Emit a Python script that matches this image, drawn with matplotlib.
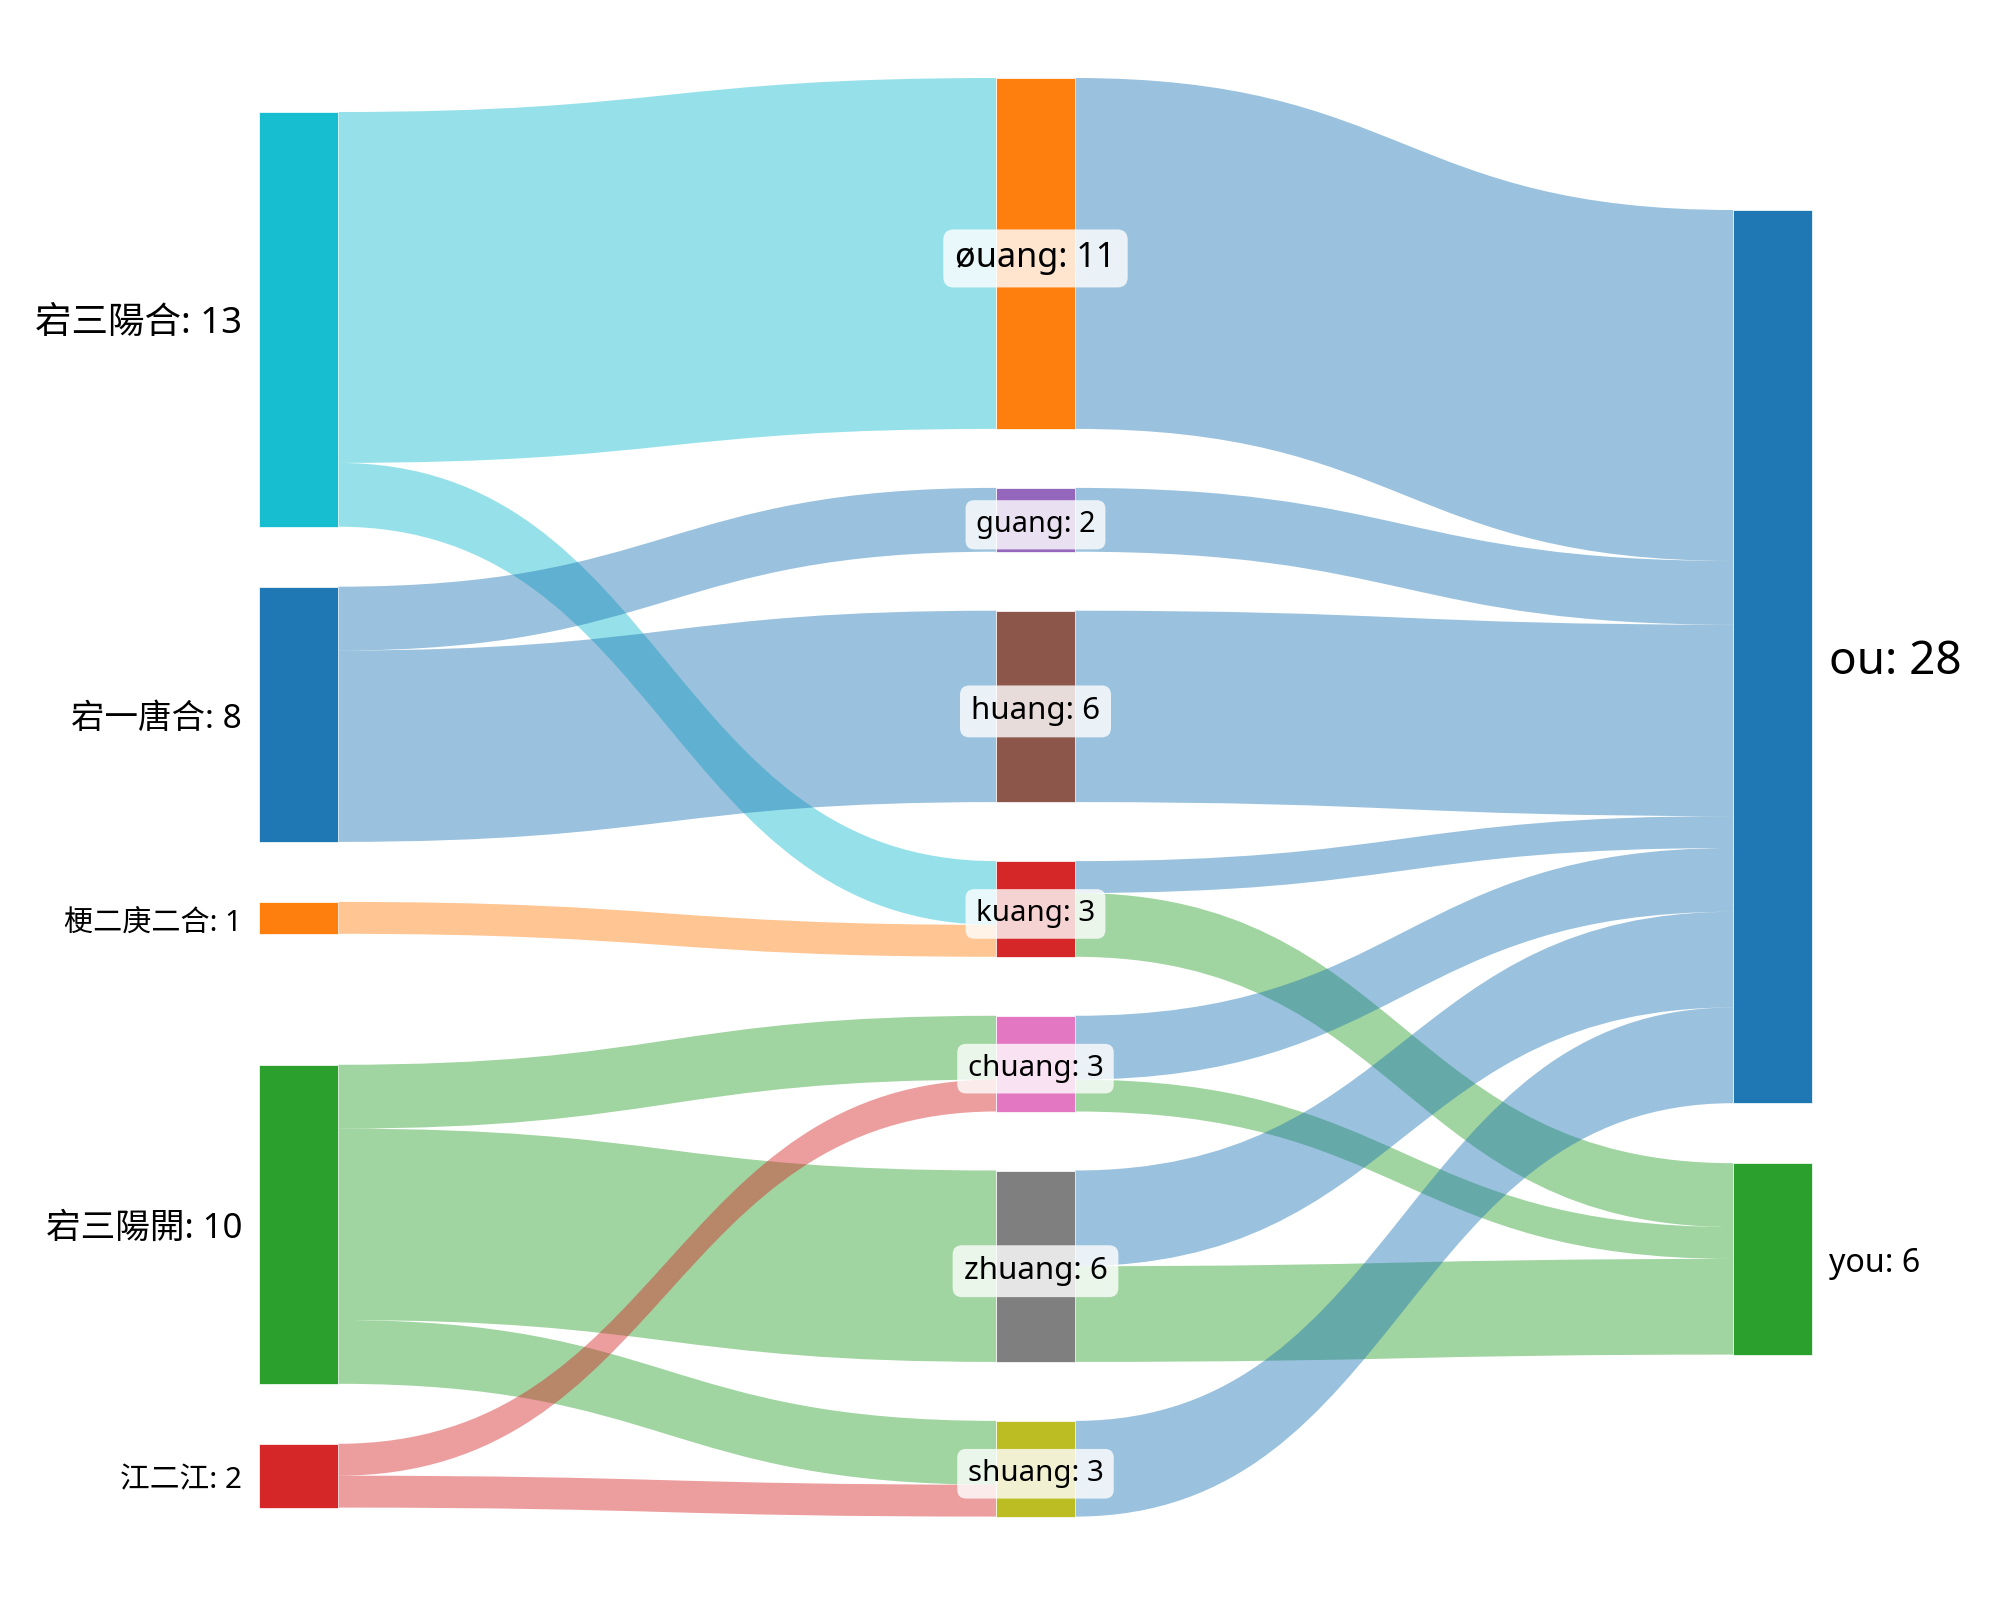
import matplotlib.pyplot as plt
from matplotlib.patches import Rectangle, PathPatch
from matplotlib.path import Path

plt.rcParams['font.family'] = ['Noto Sans', 'Noto Sans CJK TC', 'DejaVu Sans']

# nodes, one list per column
col_left = ['宕三陽合', '宕一唐合', '梗二庚二合', '宕三陽開', '江二江']
col_mid = ['øuang', 'guang', 'huang', 'kuang', 'chuang', 'zhuang', 'shuang']
col_right = ['ou', 'you']

# flows
link_src = ['宕三陽合', '宕三陽合', '宕一唐合', '宕一唐合', '梗二庚二合',
            '宕三陽開', '宕三陽開', '宕三陽開', '江二江', '江二江',
            'øuang', 'guang', 'huang', 'kuang', 'kuang',
            'chuang', 'chuang', 'zhuang', 'zhuang', 'shuang']
link_tgt = ['øuang', 'kuang', 'guang', 'huang', 'kuang',
            'chuang', 'zhuang', 'shuang', 'chuang', 'shuang',
            'ou', 'ou', 'ou', 'ou', 'you',
            'ou', 'you', 'ou', 'you', 'ou']
link_val = [11, 2, 2, 6, 1,
            2, 6, 2, 1, 1,
            11, 2, 6, 1, 2,
            2, 1, 3, 3, 3]

node_color = {
    '宕三陽合': '#17becf', '宕一唐合': '#1f77b4', '梗二庚二合': '#ff7f0e',
    '宕三陽開': '#2ca02c', '江二江': '#d62728',
    'øuang': '#ff7f0e', 'guang': '#9467bd', 'huang': '#8c564b',
    'kuang': '#d62728', 'chuang': '#e377c2', 'zhuang': '#7f7f7f',
    'shuang': '#bcbd22', 'ou': '#1f77b4', 'you': '#2ca02c',
}

# layout (pixels of a 2000x1600 canvas)
unit = 31.9
node_w = 79
col_x = [259, 996, 1733]
col_top = [112, 78, 210]
col_gaps = [[60, 60, 131, 60], [59] * 6, [60]]
columns = [col_left, col_mid, col_right]

inflow = {}
outflow = {}
for s, t, v in zip(link_src, link_tgt, link_val):
    outflow[s] = outflow.get(s, 0) + v
    inflow[t] = inflow.get(t, 0) + v

value = {}
pos = {}
for ci, col in enumerate(columns):
    y = col_top[ci]
    for ni, name in enumerate(col):
        if ni > 0:
            y += col_gaps[ci][ni - 1]
        value[name] = max(inflow.get(name, 0), outflow.get(name, 0))
        h = value[name] * unit
        pos[name] = (col_x[ci], y, h, ci)
        y += h

fig = plt.figure(figsize=(20, 16), dpi=100)
ax = fig.add_axes([0, 0, 1, 1])
ax.set_xlim(0, 2000)
ax.set_ylim(1600, 0)
ax.axis('off')

# link stacking order within each node
links = list(zip(link_src, link_tgt, link_val))
out_off = {n: 0.0 for n in pos}
in_off = {n: 0.0 for n in pos}
src_y0 = {}
tgt_y0 = {}
for n in pos:
    outs = sorted([i for i, l in enumerate(links) if l[0] == n], key=lambda i: pos[links[i][1]][1])
    for i in outs:
        src_y0[i] = pos[n][1] + out_off[n]
        out_off[n] += links[i][2] * unit
    ins = sorted([i for i, l in enumerate(links) if l[1] == n], key=lambda i: pos[links[i][0]][1])
    for i in ins:
        tgt_y0[i] = pos[n][1] + in_off[n]
        in_off[n] += links[i][2] * unit

for i, (s, t, v) in enumerate(links):
    x0 = pos[s][0] + node_w
    x1 = pos[t][0]
    xm = (x0 + x1) / 2
    h = v * unit
    a0, a1 = src_y0[i], tgt_y0[i]
    b0, b1 = a0 + h, a1 + h
    verts = [(x0, a0), (xm, a0), (xm, a1), (x1, a1),
             (x1, b1), (xm, b1), (xm, b0), (x0, b0), (x0, a0)]
    codes = [Path.MOVETO, Path.CURVE4, Path.CURVE4, Path.CURVE4,
             Path.LINETO, Path.CURVE4, Path.CURVE4, Path.CURVE4, Path.CLOSEPOLY]
    color = node_color[s] if pos[s][3] == 0 else node_color[t]
    ax.add_patch(PathPatch(Path(verts, codes), facecolor=color, alpha=0.45,
                           edgecolor='none', zorder=1))

for name, (x, y, h, ci) in pos.items():
    ax.add_patch(Rectangle((x, y), node_w, h, facecolor=node_color[name],
                           edgecolor='white', linewidth=0.5, zorder=2))
    v = value[name]
    fs = (28.5 + 0.62 * v) * 0.72
    label = f'{name}: {v}'
    cy = y + h / 2 + 5
    if ci == 0:
        ax.text(x - 17, cy, label, ha='right', va='center', fontsize=fs, zorder=3)
    elif ci == 2:
        ax.text(x + node_w + 17, cy, label, ha='left', va='center', fontsize=fs, zorder=3)
    else:
        ax.text(x + node_w / 2, cy, label, ha='center', va='center', fontsize=fs * 0.97, zorder=3,
                bbox=dict(boxstyle='round,pad=0.35,rounding_size=0.3',
                          facecolor='white', alpha=0.8, edgecolor='none'))

fig.savefig('out.png', dpi=100, facecolor='white')
